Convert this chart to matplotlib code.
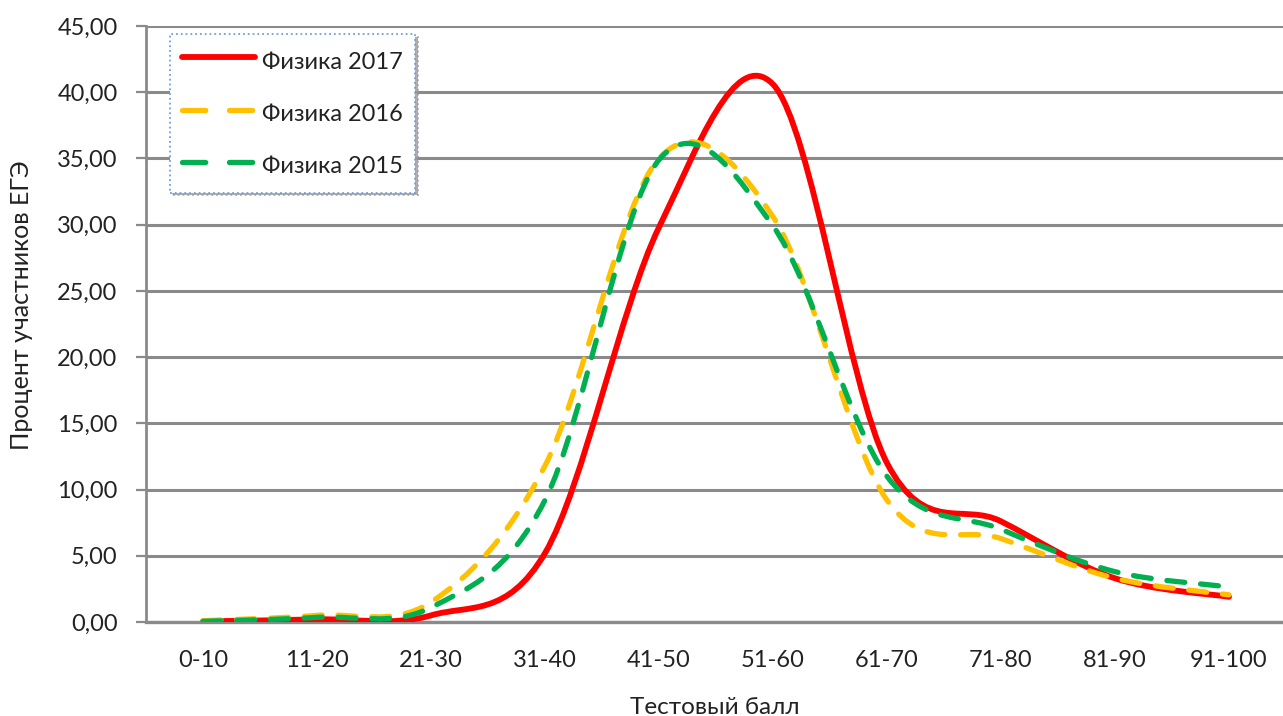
import numpy as np
import matplotlib.pyplot as plt
from matplotlib.path import Path
from matplotlib.patches import PathPatch
from matplotlib.lines import Line2D
from matplotlib.ticker import FuncFormatter

plt.rcParams['font.family'] = ['Lato', 'Noto Sans', 'DejaVu Sans']

# score bands on the x axis
categories = ['0-10', '11-20', '21-30', '31-40', '41-50',
              '51-60', '61-70', '71-80', '81-90', '91-100']

# percent of participants per band
phys_2017 = [0.05, 0.2, 0.5, 5.2, 29.8, 40.6, 12.0, 7.6, 3.3, 1.9]
phys_2016 = [0.1, 0.5, 1.5, 11.8, 35.0, 30.6, 9.2, 6.3, 3.3, 2.05]
phys_2015 = [0.05, 0.35, 1.1, 9.2, 34.9, 29.9, 11.0, 7.0, 3.8, 2.65]

series_names = ['Физика 2017', 'Физика 2016', 'Физика 2015']
series_colors = ['#FF0000', '#FFC000', '#00B050']

y_ticks = [0, 5, 10, 15, 20, 25, 30, 35, 40, 45]


def smooth_path(xs, ys):
    # excel style smoothed line: bezier segments with catmull-rom control points
    pts = np.column_stack([xs, ys]).astype(float)
    ext = np.vstack([pts[0], pts, pts[-1]])
    verts = [tuple(pts[0])]
    codes = [Path.MOVETO]
    for i in range(len(pts) - 1):
        p0, p1, p2, p3 = ext[i], ext[i + 1], ext[i + 2], ext[i + 3]
        c1 = p1 + (p2 - p0) / 6.0
        c2 = p2 - (p3 - p1) / 6.0
        verts += [tuple(c1), tuple(c2), tuple(p2)]
        codes += [Path.CURVE4] * 3
    return Path(verts, codes)


W, H = 1283, 716
fig = plt.figure(figsize=(W / 100, H / 100), dpi=100)
ax = fig.add_axes([146 / W, 94 / H, 1140 / W, 596 / H])

x = np.arange(len(categories))
grid_col = '#8a8a8a'

styles = [
    dict(lw=4.2, ls='-', leg_ls='-'),
    dict(lw=3.8, ls=(0, (3.4, 3.0)), leg_ls=(0, (4.4, 4.5))),
    dict(lw=3.8, ls=(0, (3.4, 3.0)), leg_ls=(0, (4.4, 4.5))),
]
handles = []
for vals, name, col, st in zip([phys_2017, phys_2016, phys_2015], series_names, series_colors, styles):
    patch = PathPatch(smooth_path(x, vals), fill=False, edgecolor=col,
                      lw=st['lw'], linestyle=st['ls'], capstyle='round', joinstyle='round', zorder=3)
    ax.add_patch(patch)
    handles.append(Line2D([], [], color=col, lw=st['lw'], linestyle=st['leg_ls'],
                          dash_capstyle='round', solid_capstyle='round', label=name))

ax.set_xlim(-0.5, len(categories) - 0.5)
ax.set_ylim(0, 45)
ax.set_xticks(x)
ax.set_xticklabels(categories)
ax.set_yticks(y_ticks)
ax.yaxis.set_major_formatter(FuncFormatter(lambda v, p: f'{v:.2f}'.replace('.', ',')))

ax.yaxis.grid(True, color=grid_col, lw=2.2)
ax.set_axisbelow(True)
for s in ['top', 'right']:
    ax.spines[s].set_visible(False)
ax.spines['left'].set_color(grid_col)
ax.spines['left'].set_linewidth(2)
ax.spines['bottom'].set_color(grid_col)
ax.spines['bottom'].set_linewidth(2.4)

ax.tick_params(axis='y', length=7, width=1.6, color=grid_col, pad=13.5, labelsize=17, labelcolor='#222222')
ax.tick_params(axis='x', length=0, pad=20, labelsize=17, labelcolor='#222222')

fig.text(22 / W, 1 - 305 / H, 'Процент участников ЕГЭ', rotation=90,
         ha='center', va='center', fontsize=18, color='#222222')
fig.text(715 / W, 1 - 714 / H, 'Тестовый балл', ha='center', va='baseline',
         fontsize=17.5, color='#222222')

leg = ax.legend(handles=handles, loc='upper left',
                bbox_to_anchor=(170 / W, 1 - 34 / H), bbox_transform=fig.transFigure,
                borderaxespad=0, fontsize=17, handlelength=3.1, handletextpad=0.3,
                handleheight=1.6, labelspacing=0.93, borderpad=0.5, fancybox=False,
                shadow={'color': '#9a9a9a', 'alpha': 0.8}, framealpha=1)
frame = leg.get_frame()
frame.set_edgecolor('#6fa0e0')
frame.set_linestyle(':')
frame.set_linewidth(1.3)
for t in leg.get_texts():
    t.set_color('#222222')

fig.savefig('out.png', dpi=100)
